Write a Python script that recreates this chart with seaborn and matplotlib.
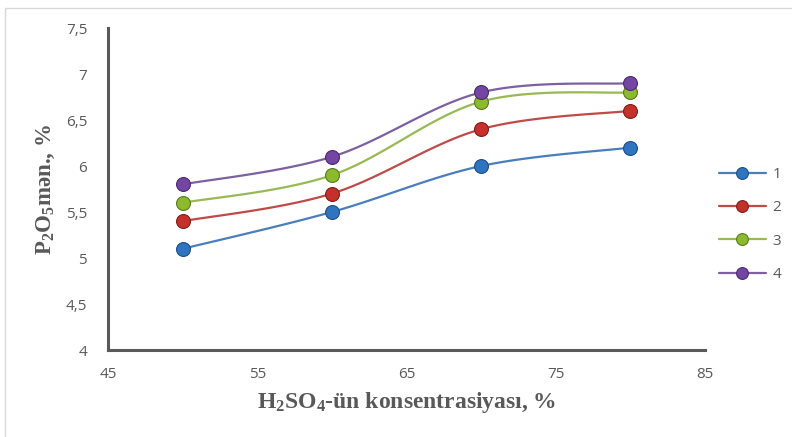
import numpy as np
import seaborn as sns
import matplotlib.pyplot as plt
from matplotlib.patches import Rectangle

# data
konsentrasiya = [50, 60, 70, 80]
seriya_1 = [5.1, 5.5, 6.0, 6.2]
seriya_2 = [5.4, 5.7, 6.4, 6.6]
seriya_3 = [5.6, 5.9, 6.7, 6.8]
seriya_4 = [5.8, 6.1, 6.8, 6.9]
labels = ["1", "2", "3", "4"]

line_colors = ["#4A7EBB", "#BE4B48", "#98B954", "#7D60A0"]
dot_colors = ["#2F74C0", "#C6302B", "#8BBA2E", "#7446A3"]
edge_colors = ["#1F4E85", "#7E1E1A", "#5A7A1C", "#4B2A6E"]


def smooth(x, y, n=40):
    # catmull-rom style curve through the points (like excel "smoothed line")
    x = np.asarray(x, float)
    y = np.asarray(y, float)
    px = np.concatenate([[x[0]], x, [x[-1]]])
    py = np.concatenate([[y[0]], y, [y[-1]]])
    xs, ys = [], []
    for i in range(1, len(px) - 2):
        p0 = np.array([px[i - 1], py[i - 1]])
        p1 = np.array([px[i], py[i]])
        p2 = np.array([px[i + 1], py[i + 1]])
        p3 = np.array([px[i + 2], py[i + 2]])
        c1 = p1 + (p2 - p0) / 6
        c2 = p2 - (p3 - p1) / 6
        t = np.linspace(0, 1, n)[:, None]
        b = (1 - t) ** 3 * p1 + 3 * (1 - t) ** 2 * t * c1 + 3 * (1 - t) * t ** 2 * c2 + t ** 3 * p2
        xs.extend(b[:, 0])
        ys.extend(b[:, 1])
    return np.array(xs), np.array(ys)


sns.set_style("white")
plt.rcParams['font.family'] = ['Open Sans', 'DejaVu Sans']
plt.rcParams['mathtext.fontset'] = 'custom'
plt.rcParams['mathtext.rm'] = 'Liberation Serif:bold'
plt.rcParams['mathtext.it'] = 'Liberation Serif:bold'
plt.rcParams['mathtext.bf'] = 'Liberation Serif:bold'
plt.rcParams['mathtext.default'] = 'rm'

fig = plt.figure(figsize=(7.92, 4.37), dpi=100)
ax = fig.add_axes([108 / 792, (437 - 350) / 437, (705 - 108) / 792, 322 / 437])

for i, ys in enumerate([seriya_1, seriya_2, seriya_3, seriya_4]):
    sx, sy = smooth(konsentrasiya, ys)
    sns.lineplot(x=sx, y=sy, ax=ax, color=line_colors[i], linewidth=1.6, sort=False,
                 estimator=None, zorder=2)
    ax.plot(konsentrasiya, ys, linestyle='none', marker='o', markersize=10,
            markerfacecolor=dot_colors[i], markeredgecolor=edge_colors[i],
            markeredgewidth=0.8, zorder=3)
    # legend entry
    ax.plot([], [], color=line_colors[i], linewidth=1.6, marker='o', markersize=8.5,
            markerfacecolor=dot_colors[i], markeredgecolor=edge_colors[i],
            markeredgewidth=0.8, label=labels[i])

ax.set_xlim(45, 85)
ax.set_ylim(4, 7.5)
xt = [45, 55, 65, 75, 85]
yt = [4, 4.5, 5, 5.5, 6, 6.5, 7, 7.5]
ax.set_xticks(xt)
ax.set_xticklabels([str(v) for v in xt])
ax.set_yticks(yt)
ax.set_yticklabels([("%g" % v).replace('.', ',') for v in yt])
ax.tick_params(axis='both', length=0, labelsize=11, colors="#595959")
ax.tick_params(axis='x', pad=12)
ax.tick_params(axis='y', pad=15)

for s in ['top', 'right']:
    ax.spines[s].set_visible(False)
for s in ['left', 'bottom']:
    ax.spines[s].set_color("#595959")
    ax.spines[s].set_linewidth(2.2)

ax.set_xlabel(r"H$_2$SO$_4$-ün konsentrasiyası, %", fontsize=17, fontweight='bold',
              color="#595959", family='Liberation Serif', labelpad=6)
ax.set_ylabel(r"P$_2$O$_5$mən., %", fontsize=16.5, fontweight='bold',
              color="#595959", family='Liberation Serif', labelpad=6)

leg = ax.legend(loc='center left', bbox_to_anchor=(1.0, 0.39), frameon=False,
                fontsize=11, handlelength=3.1, labelspacing=1.2, handletextpad=0.4)
for t in leg.get_texts():
    t.set_color("#595959")

fig.patches.append(Rectangle((5 / 792, -0.1), 1.2, (437 - 8) / 437 + 0.1,
                             transform=fig.transFigure, fill=False,
                             edgecolor="#D9D9D9", linewidth=1.0))

fig.savefig("out.png", dpi=100)
